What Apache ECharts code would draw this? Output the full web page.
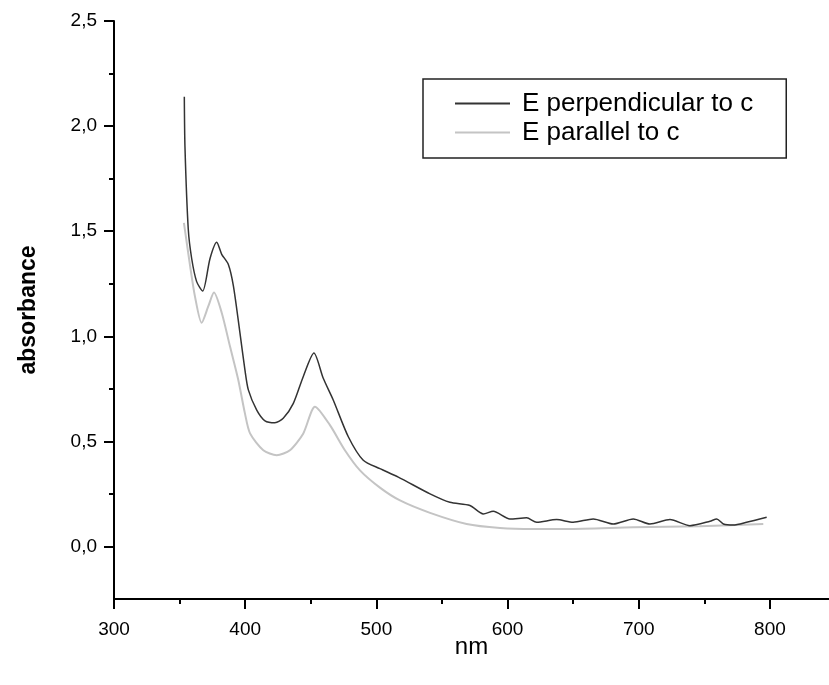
<!DOCTYPE html>
<html>
<head>
<meta charset="utf-8">
<script src="https://cdn.jsdelivr.net/npm/echarts@6/dist/echarts.min.js"></script>
<style>html,body{margin:0;padding:0;background:#fff}#c{width:829px;height:685px}</style>
</head>
<body>
<div id="c"></div>
<script>
const perpNm = [353.6,354.1,356.6,359.2,363,367.6,373.2,378.3,382.1,387.1,391,396,399.8,402.4,408.8,415.1,422.7,429,436.7,444.3,452.4,459.5,467.1,478.6,490,502.7,516.7,540.9,556,571.3,581.5,589.1,601.8,614.5,622.2,637.4,650,665.3,680.6,695.8,708.5,723.8,739,754.3,759.4,764.5,772,782.2,797.5];
const perpAbs = [2.14,1.90,1.51,1.37,1.26,1.215,1.37,1.447,1.39,1.343,1.24,1.016,0.84,0.745,0.649,0.598,0.589,0.61,0.681,0.809,0.92,0.8,0.697,0.522,0.41,0.37,0.33,0.25,0.21,0.195,0.155,0.167,0.131,0.136,0.115,0.128,0.115,0.131,0.107,0.131,0.107,0.128,0.099,0.12,0.131,0.107,0.102,0.115,0.139];
const paraNm = [353.3,358,361.7,366.8,371.9,376.2,382.1,388.4,394.7,399.8,403.7,413.8,424,434.1,444.3,453.2,464.6,476,487.5,502.7,518,540.9,568.8,594.2,619.5,645,695.8,746.6,794.9];
const paraAbs = [1.54,1.335,1.19,1.064,1.143,1.208,1.112,0.952,0.793,0.633,0.538,0.458,0.434,0.458,0.538,0.665,0.577,0.458,0.362,0.28,0.219,0.16,0.107,0.088,0.083,0.083,0.091,0.096,0.107];
const xMajor = [300,400,500,600,700,800];
const xMinor = [350,450,550,650,750];
const yMajor = [0,0.5,1.0,1.5,2.0,2.5];
const yMinor = [0.25,0.75,1.25,1.75,2.25];
const seriesNames = ['E perpendicular to c','E parallel to c'];

const zip = (a,b) => a.map((v,i)=>[v,b[i]]);
const font = 'Liberation Sans, Arial, sans-serif';
const chart = echarts.init(document.getElementById('c'), null, {renderer:'canvas'});
const axisCommon = {min:300,max:845};
chart.setOption({
  animation:false,
  backgroundColor:'#fff',
  grid:{left:114,right:0,top:21,bottom:86,containLabel:false},
  legend:{
    show:true,
    orient:'vertical', left:423, top:79,
    padding:[10,33,11,32],
    borderColor:'#222', borderWidth:1.5,
    itemWidth:55, itemHeight:2, itemGap:0,
    icon:'rect',
    textStyle:{fontFamily:font,fontSize:26,color:'#000',lineHeight:29,padding:[0,0,0,7]},
    data:[{name:seriesNames[0]},{name:seriesNames[1]}]
  },
  xAxis:[{
    type:'value', ...axisCommon,
    name:'nm', nameLocation:'middle', nameGap:36, nameMoveOverlap:false,
    nameTextStyle:{fontFamily:font,fontSize:24,color:'#000'},
    axisLine:{onZero:false,lineStyle:{color:'#000',width:2}},
    axisTick:{customValues:xMajor,length:10,lineStyle:{color:'#000',width:2}},
    axisLabel:{customValues:xMajor,fontFamily:font,fontSize:19,color:'#000',margin:21},
    splitLine:{show:false}
  },{
    type:'value', ...axisCommon, position:'bottom',
    axisLine:{show:false,onZero:false},
    axisTick:{customValues:xMinor,length:5,lineStyle:{color:'#000',width:2}},
    axisLabel:{show:false}, splitLine:{show:false}
  }],
  yAxis:[{
    type:'value', min:-0.25, max:2.5,
    name:'absorbance', nameLocation:'middle', nameGap:74, nameMoveOverlap:false,
    nameTextStyle:{fontFamily:font,fontSize:23,fontWeight:'bold',color:'#000'},
    axisLine:{show:true,onZero:false,lineStyle:{color:'#000',width:2}},
    axisTick:{show:true,customValues:yMajor,length:10,lineStyle:{color:'#000',width:2}},
    axisLabel:{customValues:yMajor,fontFamily:font,fontSize:19,color:'#000',margin:17,
      formatter:v=>v.toFixed(1).replace('.',',')},
    splitLine:{show:false}
  },{
    type:'value', min:-0.25, max:2.5, position:'left',
    axisLine:{show:false,onZero:false},
    axisTick:{show:true,customValues:yMinor,length:5,lineStyle:{color:'#000',width:2}},
    axisLabel:{show:false}, splitLine:{show:false}
  }],
  series:[{
    name:seriesNames[1], type:'line', data:zip(paraNm,paraAbs), symbol:'none', smooth:0.25,
    lineStyle:{color:'#c4c4c4',width:2}, itemStyle:{color:'#c4c4c4'}
  },{
    name:seriesNames[0], type:'line', data:zip(perpNm,perpAbs), symbol:'none', smooth:0.25,
    lineStyle:{color:'#333',width:1.5}, itemStyle:{color:'#333'}
  }]
});
</script>
</body>
</html>
